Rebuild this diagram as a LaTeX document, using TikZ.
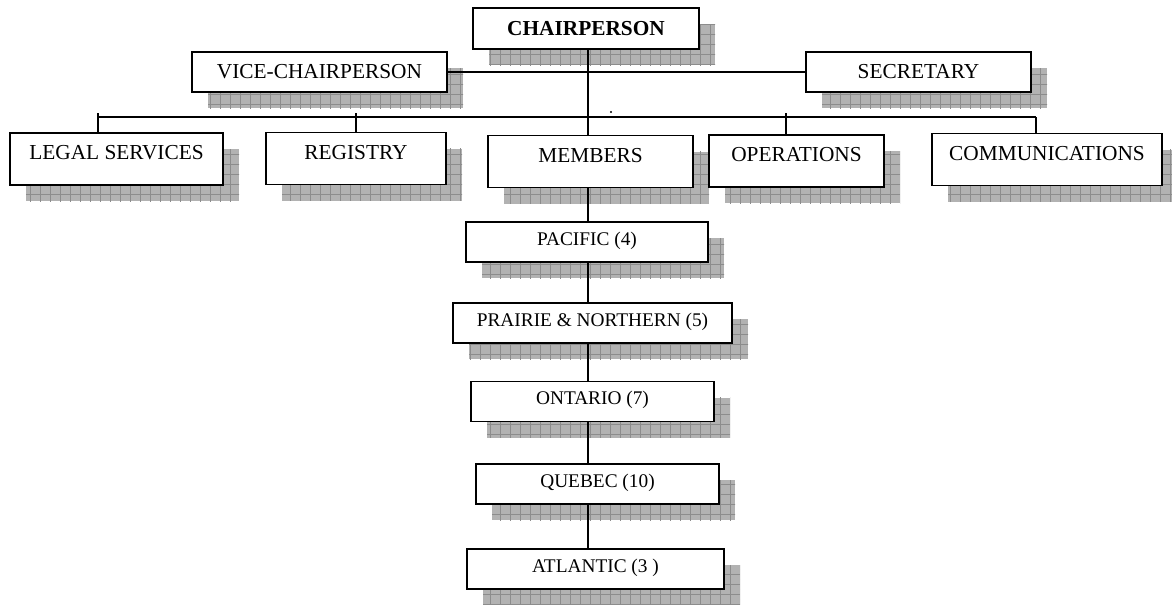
\documentclass[tikz,border=0pt]{standalone}
\usepackage{fontspec}
\setmainfont{Liberation Serif}
\usetikzlibrary{shadows, patterns.meta}

\tikzset{
  grid shadow/.style={drop shadow={shadow xshift=9.6pt, shadow yshift=-9.6pt, opacity=1,
      fill=black!30, postaction={pattern={Hatch[distance=6pt, angle=0, line width=0.45pt]}, pattern color=black!45}}},
  box/.style={draw, line width=1.1pt, fill=white, inner sep=0pt, minimum width=#1, grid shadow},
  dept/.style={box=#1, font=\fontsize{12.8}{15}\selectfont, text height=16pt, text depth=15.2pt},
  office/.style={box=#1, font=\fontsize{12.8}{15}\selectfont, text height=16pt, text depth=8pt},
  region/.style={box=#1, font=\fontsize{11.6}{14}\selectfont, text height=14pt, text depth=10pt},
  link/.style={line width=1.1pt},
}

\begin{document}
\begin{tikzpicture}[x=0.6pt, y=-0.6pt]
  \useasboundingbox (0,0) rectangle (1172,604);

  % top
  \node[office=135.6pt, text height=16.7pt, text depth=7.9pt, font=\fontsize{12.8}{15}\selectfont\bfseries] (chair) at (586,28.5) {CHAIRPERSON};
  \node[office=153pt] (vice) at (319.5,72) {VICE-CHAIRPERSON};
  \node[office=135pt] (sec) at (918.5,72) {SECRETARY};

  % departments
  \node[dept=127.8pt] (legal) at (116.5,159) {LEGAL SERVICES};
  \node[dept=108pt] (reg) at (356,158.5) {REGISTRY};
  \node[dept=123pt] (mem) at (590.5,161.5) {MEMBERS};
  \node[dept=105pt] (ops) at (796.5,161) {OPERATIONS};
  \node[dept=138pt] (comm) at (1047,159.5) {COMMUNICATIONS};

  % regions
  \node[region=145.2pt] (pac) at (587,242) {PACIFIC (4)};
  \node[region=167.4pt] (pra) at (592.5,323) {PRAIRIE \& NORTHERN (5)};
  \node[region=145.8pt] (ont) at (592.5,401.5) {ONTARIO (7)};
  \node[region=145.8pt] (que) at (597.5,484) {QUEBEC (10)};
  \node[region=154.2pt] (atl) at (595.5,569) {ATLANTIC (3 )};

  % bus points
  \coordinate (spine) at (588,0);
  \coordinate (busL) at (98,117);
  \coordinate (busR) at (1036,117);
  \coordinate (d1) at (98,113);
  \coordinate (d2) at (356,113);
  \coordinate (d3) at (786,113);

  % lines
  \draw[link] (vice.east) -- (sec.west);
  \draw[link] (chair.south -| spine) -- (mem.north -| spine);
  \draw[link] (busL) -- (busR);
  \draw[link] (d1) -- (d1 |- legal.north);
  \draw[link] (d2) -- (d2 |- reg.north);
  \draw[link] (d3) -- (d3 |- ops.north);
  \draw[link] (busR) -- (busR |- comm.north);
  \draw[link] (mem.south -| spine) -- (pac.north -| spine);
  \draw[link] (pac.south -| spine) -- (pra.north -| spine);
  \draw[link] (pra.south -| spine) -- (ont.north -| spine);
  \draw[link] (ont.south -| spine) -- (que.north -| spine);
  \draw[link] (que.south -| spine) -- (atl.north -| spine);

  \fill (611,112) circle (0.7pt);
\end{tikzpicture}
\end{document}
